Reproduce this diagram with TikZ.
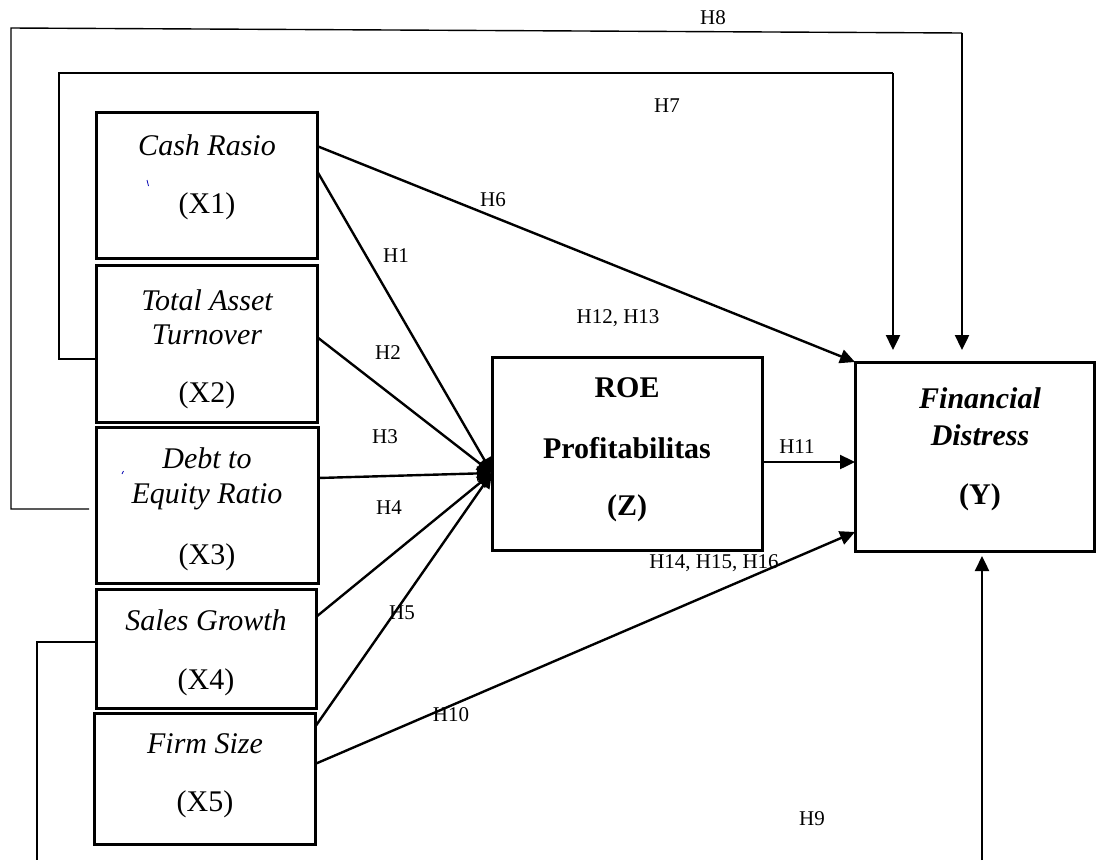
\documentclass[tikz,border=0pt]{standalone}
\usepackage{fontspec}
\setmainfont{Liberation Serif}
\usetikzlibrary{arrows.meta}
\begin{document}
\begin{tikzpicture}[x=1pt,y=-1pt,
  box/.style={draw, line width=3pt, inner sep=0pt, outer sep=0pt, rectangle},
  boxtxt/.style={font=\fontsize{30}{34}\selectfont, inner sep=0pt, anchor=center},
  lab/.style={font=\fontsize{21}{24}\selectfont, inner sep=0pt, anchor=center},
  conn/.style={line width=2.4pt, -{Triangle[length=15pt,width=14pt]}},
  bracket/.style={line width=1.4pt},
  tick/.style={draw=blue!70!black, line width=0.8pt}]
\useasboundingbox (0,0) rectangle (1097,860);
\fill[white] (0,0) rectangle (1097,860);

% boxes
\node[box, minimum width=221pt, minimum height=146pt] (x1) at (206.5,185) {};
\node[box, minimum width=221pt, minimum height=157pt] (x2) at (206.5,343.5) {};
\node[box, minimum width=222pt, minimum height=156pt] (x3) at (207,505) {};
\node[box, minimum width=220pt, minimum height=119pt] (x4) at (206,648.5) {};
\node[box, minimum width=221pt, minimum height=131pt] (x5) at (204.5,778.5) {};
\node[box, minimum width=270pt, minimum height=193pt] (roe) at (627,453.5) {};
\node[box, minimum width=239pt, minimum height=189pt] (y) at (974.5,456.5) {};

% box texts
\node[boxtxt] (t1a) at (207,145) {\itshape Cash Rasio};
\node[boxtxt] (t1b) at (207,206) {(X1)};
\node[boxtxt] (t2a) at (207,300) {\itshape Total Asset};
\node[boxtxt] (t2b) at (207,335) {\itshape Turnover};
\node[boxtxt] (t2c) at (207,395) {(X2)};
\node[boxtxt] (t3a) at (207,458) {\itshape Debt to};
\node[boxtxt] (t3b) at (207,497) {\itshape Equity Ratio};
\node[boxtxt] (t3c) at (207,557) {(X3)};
\node[boxtxt] (t4a) at (206,620) {\itshape Sales Growth};
\node[boxtxt] (t4b) at (206,682) {(X4)};
\node[boxtxt] (t5a) at (205,744) {\itshape Firm Size};
\node[boxtxt] (t5b) at (205,804) {(X5)};
\node[boxtxt] (tza) at (627,388) {\bfseries ROE};
\node[boxtxt] (tzb) at (627,448) {\bfseries Profitabilitas};
\node[boxtxt] (tzc) at (627,508) {\bfseries (Z)};
\node[boxtxt] (tya) at (980,398) {\bfseries\itshape Financial};
\node[boxtxt] (tyb) at (980,435) {\bfseries\itshape Distress};
\node[boxtxt] (tyc) at (980,497) {\bfseries (Y)};

% small blue marks
\draw[tick] (147,180) -- (148.5,186);
\draw[tick] (122,474) -- (123.5,471);

% arrows into ROE
\coordinate (hub) at (roe.west |- 0,473);
\draw[conn] (x1.east |- 0,171) -- (hub);
\draw[conn] (x2.east |- 0,337) -- (hub);
\draw[conn] (x3.east |- 0,478) -- (hub);
\draw[conn] (x4.east |- 0,617) -- (hub);
\draw[conn] (x5.east |- 0,727) -- (hub);

% arrows into Y
\draw[conn] (x1.east |- 0,146) -- (y.north west);
\draw[conn] (x5.east |- 0,764) -- (y.west |- 0,532);
\draw[conn] (roe.east |- 0,462) -- (y.west |- 0,462);

% H7
\coordinate (h7a) at (59,359);
\coordinate (h7b) at (59,73);
\coordinate (h7c) at (893,73);
\coordinate (h7d) at (893,350);
\draw[bracket] (x2.west |- 0,359) -- (h7a) -- (h7b) -- (h7c);
\draw[conn] (h7c) -- (h7d);

% H8
\coordinate (h8s) at (89,509);
\coordinate (h8a) at (11,509);
\coordinate (h8b) at (11,28);
\coordinate (h8c) at (962,33);
\coordinate (h8d) at (962,350);
\draw[bracket] (h8s) -- (h8a) -- (h8b) -- (h8c);
\draw[conn] (h8c) -- (h8d);

% H9
\coordinate (h9a) at (37,642);
\coordinate (h9b) at (37,860);
\coordinate (h9c) at (982,860);
\coordinate (h9d) at (982,556);
\draw[bracket] (x4.west |- 0,642) -- (h9a) -- (h9b);
\draw[conn] (h9c) -- (h9d);

% labels
\node[lab] (l8) at (713,18) {H8};
\node[lab] (l7) at (667,106) {H7};
\node[lab] (l6) at (493,200) {H6};
\node[lab] (l1) at (396,256) {H1};
\node[lab] (l1213) at (618,318) {H12, H13};
\node[lab] (l2) at (388,353) {H2};
\node[lab] (l3) at (385,437) {H3};
\node[lab] (l11) at (797,447) {H11};
\node[lab] (l4) at (389,508) {H4};
\node[lab] (l141516) at (714,563) {H14, H15, H16};
\node[lab] (l5) at (402,613) {H5};
\node[lab] (l10) at (451,715) {H10};
\node[lab] (l9) at (812,819) {H9};
\end{tikzpicture}
\end{document}
